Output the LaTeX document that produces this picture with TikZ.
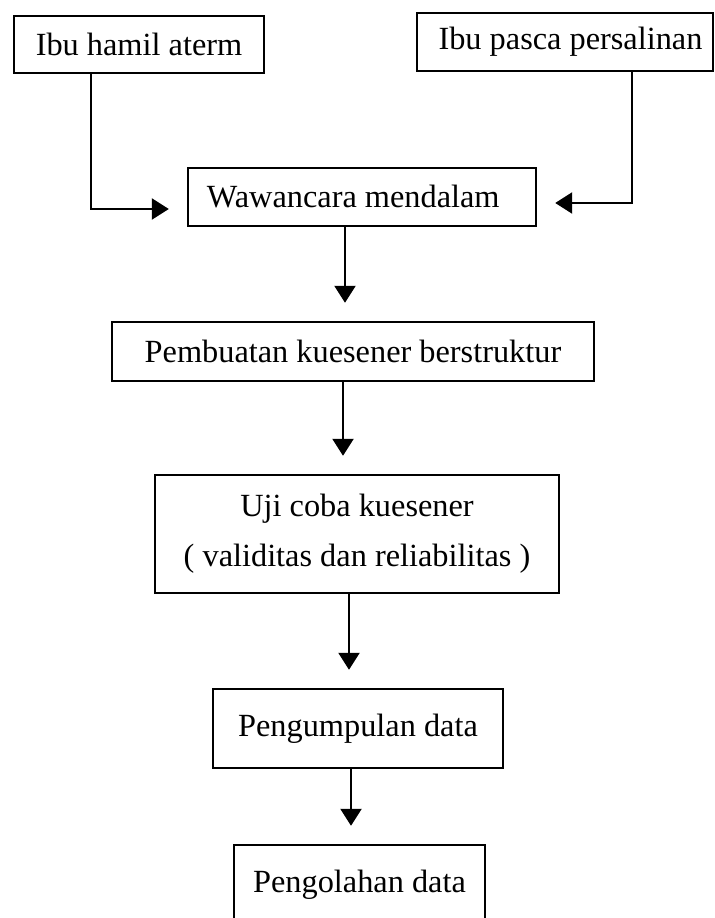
\documentclass[tikz,border=0pt]{standalone}
\usepackage{fontspec}
\setmainfont{Liberation Serif}
\usetikzlibrary{arrows.meta, positioning, calc}
\tikzset{
    kotak/.style={draw, line width=1.4pt, align=center, inner sep=0pt,
        font=\fontsize{18.4}{28.5}\selectfont},
    panah/.style={line width=1.3pt, -{Triangle[length=0.34cm,width=0.42cm]},
        shorten >=0.36cm}
}
\begin{document}
\begin{tikzpicture}[x=0.02cm, y=-0.02cm]
    \useasboundingbox (0,0) rectangle (715,918);
    \clip (0,0) rectangle (715,918);

    \node[kotak, minimum width=5cm, minimum height=1.14cm] (hamil) at (139,44.5) {Ibu hamil aterm};
    \node[kotak, minimum width=5.92cm, minimum height=1.16cm] (pasca) at (565,42) {\hspace{0.22cm}Ibu pasca persalinan};
    \node[kotak, minimum width=6.96cm, minimum height=1.16cm] (wawancara) at (362,197) {Wawancara mendalam\hspace{0.35cm}};
    \node[kotak, minimum width=9.64cm, minimum height=1.18cm] (pembuatan) at (353,351.5) {Pembuatan kuesener berstruktur};
    \node[kotak, minimum width=8.08cm, minimum height=2.36cm] (uji) at (357,534) {Uji coba kuesener\\( validitas dan reliabilitas )};
    \node[kotak, minimum width=5.8cm, minimum height=1.58cm] (pengumpulan) at (358,728.5) {Pengumpulan data};
    \node[kotak, minimum width=5.02cm, minimum height=1.6cm] (pengolahan) at (359.5,885) {Pengolahan data};

    \draw[panah] ($(hamil.south)+(-48,0)$) |- ($(wawancara.west)+(0,12)$);
    \draw[panah] ($(pasca.south)+(67,0)$) |- ($(wawancara.east)+(0,6)$);
    \draw[panah] ($(wawancara.south)+(-17,0)$) -- ($(pembuatan.north)+(-8,0)$);
    \draw[panah] ($(pembuatan.south)+(-10,0)$) -- ($(uji.north)+(-14,0)$);
    \draw[panah] ($(uji.south)+(-8,0)$) -- ($(pengumpulan.north)+(-9,0)$);
    \draw[panah] ($(pengumpulan.south)+(-7,0)$) -- ($(pengolahan.north)+(-8.5,0)$);
\end{tikzpicture}
\end{document}
